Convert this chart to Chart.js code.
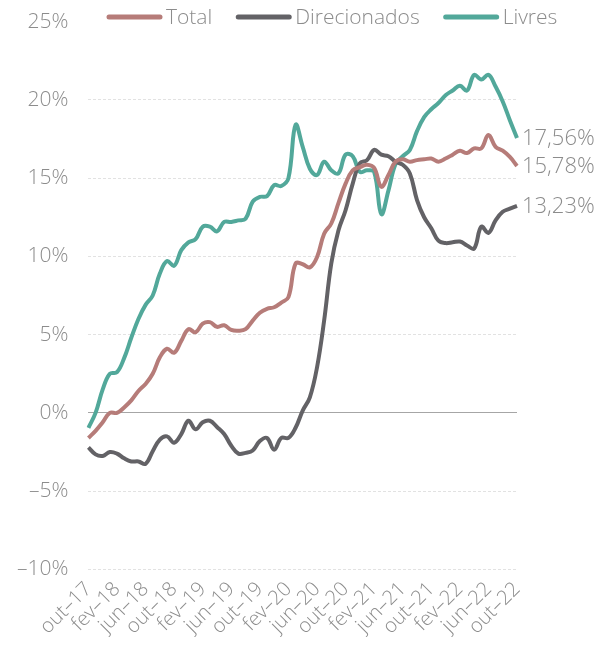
<!DOCTYPE html>
<html>
<head>
    <title>Crédito - variação anual</title>
    <script src="https://cdn.jsdelivr.net/npm/chart.js"></script>
    <style>
        body {
            margin: 0;
            background: #ffffff;
        }
        #wrap {
            width: 597px;
            height: 645px;
        }
    </style>
</head>
<body>
    <div id="wrap">
        <canvas id="creditChart" width="597" height="645"></canvas>
    </div>

    <script>
        const months = [
            'out–17', 'nov–17', 'dez–17', 'jan–18', 'fev–18', 'mar–18', 'abr–18', 'mai–18', 'jun–18', 'jul–18', 'ago–18', 'set–18',
            'out–18', 'nov–18', 'dez–18', 'jan–19', 'fev–19', 'mar–19', 'abr–19', 'mai–19', 'jun–19', 'jul–19', 'ago–19', 'set–19',
            'out–19', 'nov–19', 'dez–19', 'jan–20', 'fev–20', 'mar–20', 'abr–20', 'mai–20', 'jun–20', 'jul–20', 'ago–20', 'set–20',
            'out–20', 'nov–20', 'dez–20', 'jan–21', 'fev–21', 'mar–21', 'abr–21', 'mai–21', 'jun–21', 'jul–21', 'ago–21', 'set–21',
            'out–21', 'nov–21', 'dez–21', 'jan–22', 'fev–22', 'mar–22', 'abr–22', 'mai–22', 'jun–22', 'jul–22', 'ago–22', 'set–22',
            'out–22'
        ];

        const total = [
            -1.6, -1.15, -0.6, 0.0, 0.0, 0.35, 0.8, 1.4, 1.85, 2.5, 3.55, 4.1,
            3.85, 4.6, 5.35, 5.15, 5.7, 5.8, 5.5, 5.6, 5.3, 5.25, 5.35, 5.9,
            6.4, 6.65, 6.75, 7.05, 7.4, 9.55, 9.5, 9.3, 9.95, 11.45, 12.1, 13.4,
            14.65, 15.5, 15.7, 15.85, 15.65, 14.45, 15.2, 16.05, 16.2, 16.05, 16.15, 16.2,
            16.25, 16.05, 16.25, 16.5, 16.75, 16.6, 16.9, 16.9, 17.75, 17.0, 16.75, 16.35,
            15.78
        ];

        const direcionados = [
            -2.2, -2.65, -2.75, -2.5, -2.6, -2.9, -3.1, -3.1, -3.25, -2.45, -1.7, -1.5,
            -1.9, -1.35, -0.5, -1.05, -0.6, -0.5, -0.9, -1.35, -2.1, -2.6, -2.55, -2.4,
            -1.8, -1.6, -2.35, -1.6, -1.6, -0.95, 0.15, 1.0, 2.9, 5.9, 9.55, 11.65,
            12.95, 14.65, 15.95, 16.15, 16.8, 16.5, 16.4, 16.05, 15.85, 15.3, 13.6, 12.5,
            11.8, 11.0, 10.85, 10.9, 10.95, 10.7, 10.5, 11.9, 11.5, 12.3, 12.85, 13.05,
            13.23
        ];

        const livres = [
            -0.95, 0.0, 1.5, 2.5, 2.6, 3.5, 4.8, 6.0, 6.9, 7.5, 8.9, 9.7,
            9.4, 10.4, 10.9, 11.1, 11.9, 11.9, 11.6, 12.2, 12.2, 12.3, 12.4, 13.5,
            13.8, 13.85, 14.55, 14.5, 15.0, 18.4, 17.0, 15.6, 15.2, 16.05, 15.5, 15.3,
            16.5, 16.4, 15.4, 15.5, 15.4, 12.7, 14.2, 15.9, 16.4, 16.8, 18.0, 18.9,
            19.4, 19.8, 20.3, 20.6, 20.9, 20.6, 21.6, 21.3, 21.6, 20.85, 19.9, 18.7,
            17.56
        ];

        const textColor = '#8c8c8c';
        const fontFamily = "'Open Sans', 'Noto Sans', sans-serif";

        function fmtPct(v) {
            return v.toFixed(2).replace('.', ',') + '%';
        }

        // legend drawn by hand so it can sit beside the 25% label
        const lineLegend = {
            id: 'lineLegend',
            afterDraw(chart) {
                const ctx = chart.ctx;
                let x = 107;
                const y = 17;
                ctx.save();
                ctx.font = '300 21px ' + fontFamily;
                ctx.textBaseline = 'middle';
                chart.data.datasets.forEach(ds => {
                    ctx.strokeStyle = ds.borderColor;
                    ctx.lineWidth = 5;
                    ctx.lineCap = 'round';
                    ctx.beginPath();
                    ctx.moveTo(x + 2, y);
                    ctx.lineTo(x + 53, y);
                    ctx.stroke();
                    ctx.fillStyle = textColor;
                    ctx.fillText(ds.label, x + 59, y + 1);
                    x += 59 + ctx.measureText(ds.label).width + 24;
                });
                ctx.restore();
            }
        };

        // value labels next to the last point of each line
        const endLabels = {
            id: 'endLabels',
            afterDatasetsDraw(chart) {
                const ctx = chart.ctx;
                ctx.save();
                ctx.font = '300 22px ' + fontFamily;
                ctx.fillStyle = textColor;
                ctx.textBaseline = 'middle';
                chart.data.datasets.forEach((ds, i) => {
                    const meta = chart.getDatasetMeta(i);
                    const last = meta.data[meta.data.length - 1];
                    ctx.fillText(fmtPct(ds.data[ds.data.length - 1]), last.x + 5, last.y + 1);
                });
                ctx.restore();
            }
        };

        const ctx = document.getElementById('creditChart').getContext('2d');
        new Chart(ctx, {
            type: 'line',
            data: {
                labels: months,
                datasets: [
                    {
                        label: 'Total',
                        data: total,
                        borderColor: '#b67c79',
                        backgroundColor: '#b67c79',
                        borderWidth: 4,
                        pointRadius: 0,
                        tension: 0.4,
                        fill: false
                    },
                    {
                        label: 'Direcionados',
                        data: direcionados,
                        borderColor: '#636266',
                        backgroundColor: '#636266',
                        borderWidth: 4,
                        pointRadius: 0,
                        tension: 0.4,
                        fill: false
                    },
                    {
                        label: 'Livres',
                        data: livres,
                        borderColor: '#52a89a',
                        backgroundColor: '#52a89a',
                        borderWidth: 4,
                        pointRadius: 0,
                        tension: 0.4,
                        fill: false
                    }
                ]
            },
            options: {
                responsive: false,
                animation: false,
                layout: {
                    padding: { top: 2, right: 80, left: 8, bottom: 6 }
                },
                plugins: {
                    legend: { display: false },
                    tooltip: { enabled: false }
                },
                scales: {
                    x: {
                        grid: { display: false },
                        border: { display: false },
                        ticks: {
                            autoSkip: false,
                            maxRotation: 45,
                            minRotation: 45,
                            padding: 0,
                            color: textColor,
                            font: { family: fontFamily, size: 20, weight: '300' },
                            callback: function (value, index) {
                                return index % 4 === 0 ? months[index] : null;
                            }
                        }
                    },
                    y: {
                        min: -10,
                        max: 25,
                        ticks: {
                            stepSize: 5,
                            padding: 9,
                            color: textColor,
                            font: { family: fontFamily, size: 21, weight: '300' },
                            callback: function (v) {
                                return v < 0 ? '\u2013' + Math.abs(v) + '%' : v + '%';
                            }
                        },
                        grid: {
                            drawTicks: true,
                            tickLength: 11,
                            tickColor: 'rgba(0,0,0,0)',
                            lineWidth: 1,
                            color: function (c) {
                                if (c.tick.value === 0) return '#a6a6a6';
                                if (c.tick.value === 25) return 'rgba(0,0,0,0)';
                                return '#e2e2e2';
                            }
                        },
                        border: {
                            display: false,
                            dash: function (c) {
                                return c.tick && c.tick.value === 0 ? [] : [3, 2];
                            }
                        }
                    }
                }
            },
            plugins: [lineLegend, endLabels]
        });
    </script>
</body>
</html>
